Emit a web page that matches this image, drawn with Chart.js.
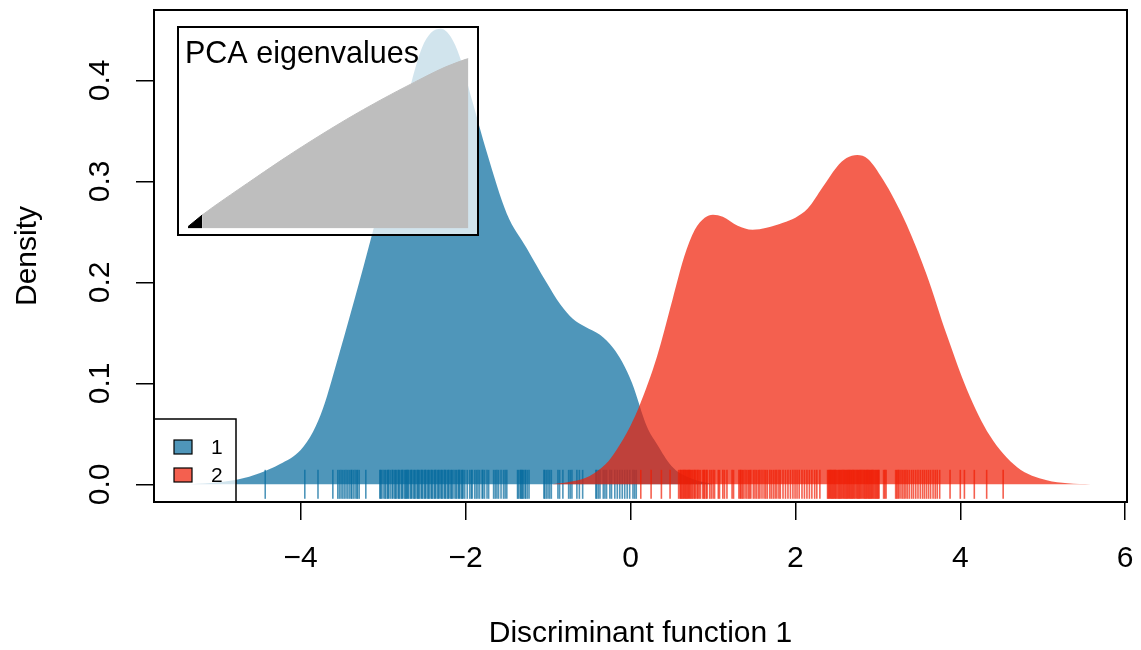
<!DOCTYPE html>
<html>
<head>
<meta charset="utf-8">
<title>DAPC density</title>
<script src="https://cdn.jsdelivr.net/npm/chart.js@4.4.1/dist/chart.umd.min.js"></script>
<style>
  html, body { margin: 0; padding: 0; background: #fff; }
  #wrap { position: relative; width: 1141px; height: 650px; overflow: hidden; }
  #main { position: absolute; left: 0; top: 0; width: 1141px; height: 650px; }
  #scree { position: absolute; left: 176px; top: 25px; width: 304px; height: 212px; }
</style>
</head>
<body>
<div id="wrap">
  <canvas id="main" width="1141" height="650"></canvas>
  <canvas id="scree" width="304" height="212"></canvas>
</div>
<script>
// group labels and their (semi transparent) colours
const groups = ['1', '2'];
const groupCols = ['rgba(4,106,156,0.7)', 'rgba(239,28,4,0.7)'];

// kernel density of discriminant function 1, group 1
const densX1 = [-5.34, -5.0, -4.75, -4.5, -4.25, -4.0, -3.85, -3.73, -3.53, -3.29, -3.1, -2.95, -2.8, -2.65, -2.53, -2.42, -2.3,
  -2.18, -2.07, -1.92, -1.74, -1.5, -1.26, -1.02, -0.85, -0.7, -0.55, -0.37, -0.21, -0.1, 0.02, 0.2, 0.32, 0.5, 0.7, 1.0];
const densY1 = [0.000, 0.002, 0.005, 0.011, 0.020, 0.034, 0.052, 0.075, 0.130, 0.200, 0.258, 0.305, 0.350, 0.400, 0.432, 0.447, 0.451,
  0.443, 0.423, 0.380, 0.328, 0.268, 0.234, 0.200, 0.178, 0.164, 0.156, 0.148, 0.135, 0.121, 0.100, 0.057, 0.040, 0.018, 0.007, 0.000];

// kernel density of discriminant function 1, group 2
const densX2 = [-0.95, -0.7, -0.5, -0.3, -0.17, 0.0, 0.11, 0.32, 0.51, 0.65, 0.78, 0.9, 1.0, 1.12, 1.3, 1.48, 1.65, 1.85,
  2.0, 2.15, 2.33, 2.5, 2.62, 2.75, 2.88, 3.06, 3.2, 3.35, 3.59, 3.84, 4.08, 4.36, 4.69, 5.05, 5.3, 5.585];
const densY2 = [0.000, 0.003, 0.008, 0.020, 0.034, 0.058, 0.078, 0.126, 0.183, 0.225, 0.252, 0.264, 0.267, 0.265, 0.256, 0.252, 0.254, 0.259,
  0.264, 0.273, 0.294, 0.314, 0.323, 0.326, 0.322, 0.302, 0.282, 0.257, 0.208, 0.147, 0.094, 0.048, 0.017, 0.004, 0.001, 0.000];

// individual coordinates (rug)
const rug1 = [-4.43, -3.95, -3.79, -3.61, -3.55, -3.53, -3.51, -3.49, -3.47, -3.45, -3.43, -3.41, -3.39, -3.38, -3.36,
  -3.34, -3.32, -3.31, -3.29, -3.21, -3.04, -3.03, -3.02, -3.0, -2.98, -2.97, -2.95, -2.94, -2.93, -2.91, -2.89, -2.88,
  -2.86, -2.85, -2.84, -2.82, -2.81, -2.8, -2.78, -2.77, -2.76, -2.74, -2.73, -2.72, -2.71, -2.7, -2.69, -2.67, -2.66,
  -2.65, -2.63, -2.62, -2.61, -2.59, -2.58, -2.57, -2.56, -2.54, -2.53, -2.52, -2.5, -2.49, -2.48, -2.46, -2.45, -2.44,
  -2.42, -2.41, -2.4, -2.38, -2.37, -2.36, -2.34, -2.33, -2.32, -2.3, -2.29, -2.28, -2.26, -2.25, -2.24, -2.22, -2.21,
  -2.2, -2.18, -2.17, -2.16, -2.14, -2.12, -2.11, -2.09, -2.08, -2.07, -2.05, -2.04, -2.03, -2.01, -1.98, -1.95, -1.93,
  -1.92, -1.89, -1.87, -1.85, -1.83, -1.8, -1.79, -1.77, -1.74, -1.72, -1.66, -1.64, -1.62, -1.6, -1.57, -1.54, -1.52,
  -1.5, -1.37, -1.36, -1.34, -1.33, -1.32, -1.31, -1.3, -1.28, -1.27, -1.25, -1.23, -1.05, -1.04, -1.02, -1.0, -0.98,
  -0.96, -0.88, -0.86, -0.82, -0.75, -0.73, -0.71, -0.65, -0.62, -0.58, -0.42, -0.41, -0.39, -0.37, -0.33, -0.31, -0.29,
  -0.25, -0.23, -0.19, -0.16, -0.13, -0.1, -0.07, -0.04, -0.01, 0.03, 0.05, 0.07];
const rug2 = [0.125, 0.25, 0.375, 0.48, 0.584, 0.6, 0.61, 0.618, 0.63, 0.64, 0.65, 0.66, 0.67, 0.68, 0.69, 0.7, 0.71,
  0.72, 0.73, 0.743, 0.755, 0.77, 0.78, 0.793, 0.81, 0.82, 0.835, 0.85, 0.877, 0.89, 0.9, 0.919, 0.93, 0.96, 0.98, 1.002,
  1.02, 1.065, 1.08, 1.12, 1.14, 1.17, 1.232, 1.25, 1.315, 1.33, 1.34, 1.355, 1.37, 1.39, 1.41, 1.43, 1.445, 1.46, 1.49,
  1.51, 1.53, 1.553, 1.57, 1.595, 1.62, 1.64, 1.66, 1.69, 1.71, 1.733, 1.755, 1.775, 1.8, 1.817, 1.85, 1.88, 1.91, 1.94,
  1.97, 1.996, 2.02, 2.046, 2.08, 2.11, 2.14, 2.17, 2.2, 2.234, 2.26, 2.297, 2.39, 2.4, 2.41, 2.42, 2.43, 2.44, 2.45,
  2.46, 2.47, 2.48, 2.49, 2.5, 2.514, 2.525, 2.535, 2.545, 2.556, 2.567, 2.578, 2.588, 2.598, 2.61, 2.62, 2.63, 2.64,
  2.65, 2.66, 2.67, 2.68, 2.69, 2.7, 2.71, 2.72, 2.733, 2.745, 2.755, 2.765, 2.775, 2.785, 2.795, 2.806, 2.818, 2.83,
  2.84, 2.85, 2.86, 2.87, 2.88, 2.89, 2.9, 2.91, 2.92, 2.93, 2.94, 2.95, 2.963, 2.974, 2.985, 2.995, 3.005, 3.015, 3.07,
  3.085, 3.1, 3.216, 3.23, 3.245, 3.258, 3.28, 3.3, 3.32, 3.34, 3.36, 3.383, 3.41, 3.433, 3.46, 3.487, 3.515, 3.542,
  3.565, 3.59, 3.615, 3.64, 3.67, 3.696, 3.72, 3.75, 3.876, 4.0, 4.05, 4.17, 4.32, 4.52];

const xTicks = [-4, -2, 0, 2, 4, 6];
const yTicks = [0, 0.1, 0.2, 0.3, 0.4];

// cumulated PCA variance (%) and number of retained axes
const pcaAxis = [1, 6, 10, 22, 34, 45, 57, 69, 81, 92, 100];
const pcaCumVar = [1.1, 7.9, 12.8, 26.6, 40.2, 52.0, 64.2, 75.5, 86.0, 95.0, 100];
const nRetained = 6;

const FONT = '"Liberation Sans", Arial, Helvetica, sans-serif';
const pts = (xs, ys) => xs.map((x, i) => ({ x, y: ys[i] }));

// plot frame + legend drawn on top, R style
const frameAndLegend = {
  id: 'frameAndLegend',
  afterDatasetsDraw(chart) {
    const { ctx, chartArea: a } = chart;
    ctx.save();
    // legend box (bottomleft)
    const lx = a.left, ly = 419, lw = 82, lh = a.bottom - 419;
    ctx.fillStyle = 'rgba(255,255,255,0.74)';
    ctx.fillRect(lx, ly, lw, lh);
    ctx.strokeStyle = '#000';
    ctx.lineWidth = 1.5;
    ctx.strokeRect(lx, ly, lw, lh);
    ctx.font = '21px ' + FONT;
    ctx.textBaseline = 'middle';
    ctx.textAlign = 'left';
    groups.forEach((g, i) => {
      const cy = 447 + i * 28;
      ctx.fillStyle = '#fff';
      ctx.fillRect(174, cy - 7, 18, 14);
      ctx.fillStyle = groupCols[i];
      ctx.fillRect(174, cy - 7, 18, 14);
      ctx.lineWidth = 1.2;
      ctx.strokeRect(174, cy - 7, 18, 14);
      ctx.fillStyle = '#000';
      ctx.fillText(g, 211, cy + 1);
    });
    // box around the plot region
    ctx.lineWidth = 2;
    ctx.strokeRect(a.left, a.top, a.right - a.left, a.bottom - a.top);
    ctx.restore();
  }
};

const densityDs = (xs, ys, col, order) => ({
  type: 'line',
  data: pts(xs, ys),
  borderColor: col,
  backgroundColor: col,
  borderWidth: 0,
  fill: 'origin',
  pointRadius: 0,
  cubicInterpolationMode: 'monotone',
  order
});

const rugDs = (xs, col, order) => ({
  type: 'scatter',
  data: xs.map(x => ({ x, y: 0 })),
  pointStyle: 'line',
  pointRotation: 90,
  pointRadius: 14.5,
  pointBorderWidth: 1.6,
  pointBorderColor: col,
  pointBackgroundColor: col,
  order
});

new Chart(document.getElementById('main'), {
  type: 'line',
  data: {
    datasets: [
      densityDs(densX1, densY1, groupCols[0], 4),
      rugDs(rug1, groupCols[0], 3),
      densityDs(densX2, densY2, groupCols[1], 2),
      rugDs(rug2, groupCols[1], 1)
    ]
  },
  options: {
    responsive: false,
    animation: false,
    events: [],
    layout: { autoPadding: false, padding: { top: 10, right: 14, bottom: 0, left: 0 } },
    plugins: { legend: { display: false }, tooltip: { enabled: false } },
    scales: {
      x: {
        type: 'linear',
        min: -5.779,
        max: 6.022,
        afterBuildTicks: s => { s.ticks = xTicks.map(v => ({ value: v })); },
        afterFit: s => { s.height = 148; s.paddingLeft = 0; s.paddingRight = 0; },
        grid: { drawOnChartArea: false, drawTicks: true, tickLength: 18, color: '#000', lineWidth: 1.5 },
        border: { display: false },
        ticks: {
          color: '#000',
          font: { family: FONT, size: 30, lineHeight: 1 },
          padding: 24,
          maxRotation: 0,
          autoSkip: false,
          callback: v => String(v).replace('-', '\u2212')
        },
        title: {
          display: true,
          text: 'Discriminant function 1',
          color: '#000',
          font: { family: FONT, size: 30, lineHeight: 1 },
          padding: { top: 0, bottom: 1 }
        }
      },
      y: {
        type: 'linear',
        min: -0.0175,
        max: 0.4696,
        afterBuildTicks: s => { s.ticks = yTicks.map(v => ({ value: v })); },
        afterFit: s => { s.width = 154; s.paddingTop = 0; s.paddingBottom = 0; },
        grid: { drawOnChartArea: false, drawTicks: true, tickLength: 18, color: '#000', lineWidth: 1.5 },
        border: { display: false },
        ticks: {
          color: '#000',
          font: { family: FONT, size: 30, lineHeight: 1 },
          padding: 14,
          minRotation: 90,
          maxRotation: 90,
          crossAlign: 'center',
          autoSkip: false,
          callback: v => v.toFixed(1)
        },
        title: {
          display: true,
          text: 'Density',
          color: '#000',
          font: { family: FONT, size: 30, lineHeight: 1 },
          padding: { top: 13, bottom: 0 }
        }
      }
    }
  },
  plugins: [frameAndLegend]
});

// inset: PCA eigenvalues
const screeFrame = {
  id: 'screeFrame',
  beforeDraw(chart) {
    const { ctx } = chart;
    ctx.save();
    ctx.fillStyle = 'rgba(255,255,255,0.74)';
    ctx.fillRect(2, 2, 300, 208);
    ctx.restore();
  },
  afterDraw(chart) {
    const { ctx } = chart;
    ctx.save();
    ctx.strokeStyle = '#000';
    ctx.lineWidth = 2;
    ctx.strokeRect(2, 2, 300, 208);
    ctx.fillStyle = '#000';
    ctx.font = '30.5px ' + FONT;
    ctx.textBaseline = 'alphabetic';
    ctx.fillText('PCA eigenvalues', 9, 38);
    ctx.restore();
  }
};

const retainedIdx = pcaAxis.findIndex(v => v >= nRetained);
new Chart(document.getElementById('scree'), {
  type: 'line',
  data: {
    datasets: [
      {
        data: pts(pcaAxis.slice(0, retainedIdx + 1), pcaCumVar.slice(0, retainedIdx + 1)),
        borderColor: '#000', backgroundColor: '#000', borderWidth: 1,
        fill: 'origin', pointRadius: 0, order: 1
      },
      {
        data: pts(pcaAxis.slice(retainedIdx), pcaCumVar.slice(retainedIdx)),
        borderColor: '#bebebe', backgroundColor: '#bebebe', borderWidth: 1,
        fill: 'origin', pointRadius: 0, cubicInterpolationMode: 'monotone', order: 2
      }
    ]
  },
  options: {
    responsive: false,
    animation: false,
    events: [],
    layout: { autoPadding: false, padding: { left: 12, right: 11.5, top: 33.3, bottom: 8.5 } },
    plugins: { legend: { display: false }, tooltip: { enabled: false } },
    scales: {
      x: { type: 'linear', display: false, min: 1, max: 100 },
      y: { display: false, min: 0, max: 100 }
    }
  },
  plugins: [screeFrame]
});
</script>
</body>
</html>
